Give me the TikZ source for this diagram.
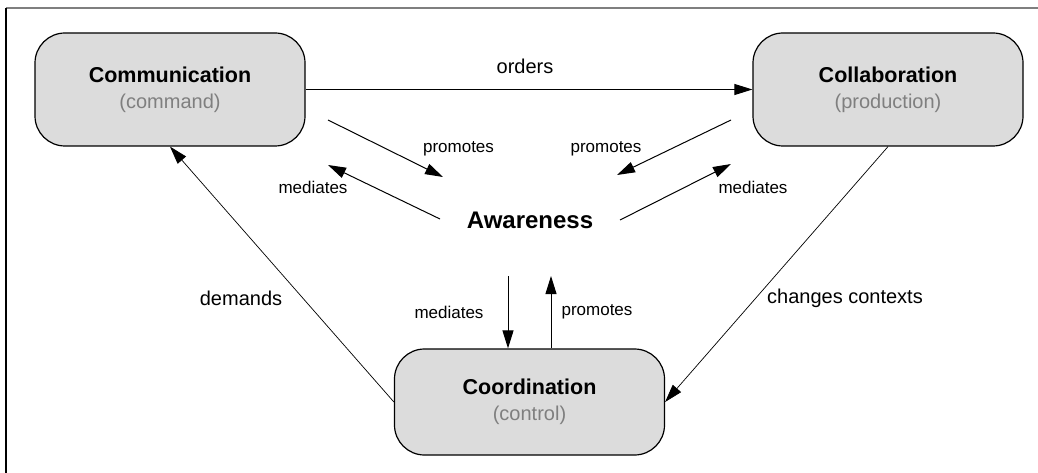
\documentclass[tikz,border=0pt]{standalone}
\usepackage{fontspec}
\setmainfont{Liberation Sans}
\usetikzlibrary{arrows.meta}
\definecolor{boxgray}{HTML}{DCDCDC}
\definecolor{subgray}{HTML}{7F7F7F}
\tikzset{area/.style = {draw, line width=1.2pt, fill=boxgray, rounded corners=30pt, minimum width=270pt, minimum height=113pt, align=center, font=\fontsize{20}{26}\selectfont}}
\tikzset{lbl/.style = {font=\fontsize{17}{20}\selectfont, inner sep=0pt}}
\tikzset{biglbl/.style = {font=\fontsize{20}{24}\selectfont, inner sep=0pt}}
\newcommand{\areatext}[2]{{\fontsize{21.5}{26}\selectfont\bfseries #1}\\{\color{subgray}#2}}

\begin{document}
\begin{tikzpicture}[x=1pt, y=-1pt, >={Triangle[length=18pt, width=11pt]}, line width=1pt]
  \useasboundingbox (0,0) rectangle (1038,473);
  % frame
  \draw[subgray, line width=1.5pt] (6,8) -- (1038,8);
  \draw[line width=2pt] (6,8) -- (6,473);

  \node [area] (comm) at (170,89.5) {\areatext{Communication}{(command)}};
  \node [area] (collab) at (888,89.5) {\areatext{Collaboration}{(production)}};
  \node [area, minimum height=106pt] (coord) at (529.5,402) {\areatext{Coordination}{(control)}};
  \node [font=\fontsize{24}{28}\selectfont\bfseries] (aware) at (530,220) {Awareness};

  % loose ends round awareness
  \coordinate (comm-out) at (328,120);
  \coordinate (aware-nw) at (443,177);
  \coordinate (aware-w) at (440,219);
  \coordinate (comm-in) at (328,165);
  \coordinate (collab-out) at (731,120);
  \coordinate (aware-ne) at (617,175);
  \coordinate (aware-e) at (620,220);
  \coordinate (collab-in) at (731,164);
  \coordinate (aware-sw) at (508,276);
  \coordinate (aware-se) at (551,276);

  \path[->] (comm.east) edge (collab.west);
  \path[->] (comm-out) edge (aware-nw);
  \path[->] (aware-w) edge (comm-in);
  \path[->] (collab-out) edge (aware-ne);
  \path[->] (aware-e) edge (collab-in);
  \path[->] (aware-sw) edge (aware-sw |- coord.north);
  \path[->] (coord.north -| aware-se) edge (aware-se);
  \path[->, line width=0.7pt] (coord.west) edge (comm.south);
  \path[->, line width=0.7pt] (collab.south) edge (coord.east);

  \node [biglbl] (l-orders) at (525,66) {orders};
  \node [lbl] (l-prom1) at (458.5,149) {promotes};
  \node [lbl] (l-med1) at (313,187) {mediates};
  \node [lbl] (l-prom2) at (606,149) {promotes};
  \node [lbl] (l-med2) at (753,187) {mediates};
  \node [biglbl] (l-demands) at (241,298) {demands};
  \node [lbl] (l-med3) at (449,312) {mediates};
  \node [lbl] (l-prom3) at (597,312) {promotes};
  \node [biglbl] (l-changes) at (845,298) {changes contexts};
\end{tikzpicture}
\end{document}
